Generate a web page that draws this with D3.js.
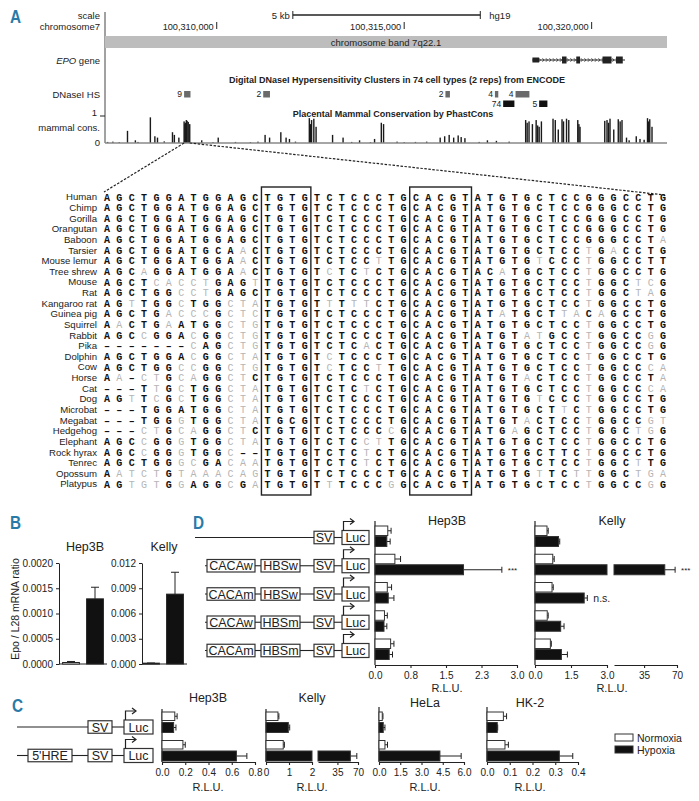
<!DOCTYPE html>
<html lang="en">
<head>
<meta charset="UTF-8">
<title>EPO hypoxia-response enhancer</title>
<script src="https://d3js.org/d3.v7.min.js"></script>
<style>
    body { margin: 0; padding: 0; background: #fff; }
    svg { display: block; font-family: "Liberation Sans", Arial, sans-serif; }
</style>
</head>
<body>
<div id="fig"></div>
<script>
// ---------------- data: panel A (positions in kb past chr7:100,300,000) ----------------
var viewKb = [7.02, 22.01];
var coordTicks = [10, 15, 20];
var coordLabels = ["100,310,000", "100,315,000", "100,320,000"];
var scaleBarKb = [12.03, 17.03];

var geneSpan = [18.42, 20.89];
var exonStart = [18.42, 19.21, 19.59, 20.29, 20.65];
var exonEnd   = [18.60, 19.33, 19.69, 20.53, 20.83];

var dnaseStart = [9.13, 11.24, 16.10, 17.42, 17.97, 17.64, 18.60];
var dnaseEnd   = [9.30, 11.42, 16.22, 17.51, 18.34, 17.94, 18.82];
var dnaseScore = ["9", "2", "2", "4", "4", "74", "5"];
var dnaseRow   = [0, 0, 0, 0, 0, 1, 1];
var dnaseDark  = [false, false, false, false, false, true, true];

var consPos = [7.09, 7.23, 7.40, 7.62, 7.83, 7.90, 8.23, 8.35, 8.42, 8.60, 8.82, 8.87, 8.99,
    9.13, 9.15, 9.17, 9.19, 9.21, 9.24, 9.28, 9.60, 9.90, 10.04, 10.50, 10.90, 11.10, 11.29, 11.41,
    11.71, 11.85, 11.94, 12.10, 12.47, 12.50, 12.53, 12.59, 12.65, 13.09, 13.37, 13.60, 13.81,
    14.10, 14.21, 14.39, 14.45, 14.81, 15.00, 15.30, 15.60, 15.96, 16.08, 16.20, 16.32, 16.44,
    16.52, 16.62, 17.00, 17.22, 17.46, 17.80, 18.24, 18.28, 18.33, 18.42, 18.52, 18.56, 18.60,
    18.66, 18.97, 19.03, 19.11, 19.21, 19.25, 19.33, 19.39, 19.63, 19.66, 19.69, 20.35, 20.41,
    20.45, 20.49, 20.59, 20.71, 20.76, 20.81, 20.93, 21.00, 21.19, 21.29, 21.40, 21.49, 21.52,
    21.55, 21.61];
var consVal = [0.04, 0.05, 0.03, 0.45, 0.10, 0.04, 0.95, 0.25, 0.20, 0.06, 0.40, 0.30, 0.20,
    0.80, 0.72, 0.75, 0.85, 0.82, 0.78, 0.70, 0.10, 0.03, 0.20, 0.04, 0.03, 0.05, 0.30, 0.20,
    0.40, 0.20, 0.15, 0.05, 0.92, 0.70, 0.85, 0.90, 0.60, 0.30, 0.20, 0.04, 0.10,
    0.03, 0.15, 0.75, 0.70, 0.05, 0.03, 0.04, 0.05, 0.20, 0.25, 0.30, 0.20, 0.28,
    0.22, 0.18, 0.04, 0.10, 0.08, 0.05, 0.85, 0.75, 0.80, 0.70, 0.85, 0.65, 0.60,
    0.80, 0.90, 0.85, 0.50, 0.88, 0.80, 0.90, 0.85, 0.85, 0.70, 0.60, 0.82, 0.85,
    0.75, 0.90, 0.50, 0.88, 0.80, 0.85, 0.20, 0.10, 0.25, 0.15, 0.12, 0.92, 0.80,
    0.88, 0.60];

// alignment: upper case = conserved (black), lower case = grey, "-" = gap
var species = ["Human", "Chimp", "Gorilla", "Orangutan", "Baboon", "Tarsier", "Mouse lemur",
    "Tree shrew", "Mouse", "Rat", "Kangaroo rat", "Guinea pig", "Squirrel", "Rabbit", "Pika",
    "Dolphin", "Cow", "Horse", "Cat", "Dog", "Microbat", "Megabat", "Hedgehog", "Elephant",
    "Rock hyrax", "Tenrec", "Opossum", "Platypus"];
var sequences = [
    "AGCTGGATGGAGC" + "TGTG" + "TC" + "TCCCTG" + "CACGT" + "ATGTGCTCCGGGCCTG",
    "AGCTGGATGGAGC" + "TGTG" + "TC" + "TCCCTG" + "CACGT" + "ATGTGCTCCGGGCCTG",
    "AGCTGGATGGAGC" + "TGTG" + "TC" + "TCCCTG" + "CACGT" + "ATGTGCTCCGGGCCTG",
    "AGCTGGATGGAGC" + "TGTG" + "TC" + "TCCCTG" + "CACGT" + "ATGTGCTCCGGGCCTG",
    "AGCTGGATGGAGC" + "TGTG" + "TC" + "TCCCTG" + "CACGT" + "ATGTGCTCCGGGCCTa",
    "AGCTGGATGCAaC" + "TGTG" + "TC" + "TCCCTG" + "CACGT" + "ATGTGCTCCtGaCCTG",
    "AGCTGGATGGAaC" + "TGTG" + "TC" + "TCCtTG" + "CACGT" + "ATGTGtCCCtGGCCTT",
    "AGCaGGATGGAaC" + "TGTG" + "Tc" + "TCtCTG" + "CACGT" + "ACaTGCTCCtGGCCTG",
    "AGCTcacctGAGt" + "TGTG" + "TC" + "TCCCTG" + "CACGT" + "ATGTGCTCCtGGCtcG",
    "AGCTGGcctGAGC" + "TGTG" + "TC" + "TCCCTG" + "CACGT" + "ATGTGCTCCtGGCtaG",
    "AGtTGGcTGGcta" + "TGTG" + "Tt" + "TttCTG" + "CACGT" + "ATGTGCTCCtGGCCTG",
    "AGCTGacccGctc" + "TGTG" + "TC" + "TCCCTG" + "CACGT" + "ATaTGCTtaCaGCCTG",
    "AaCTGaATGGctg" + "TGTG" + "TC" + "TCCCTG" + "CACGT" + "ATGTGCTCCtGGCCTG",
    "AGCcGGAcGGctg" + "TGTG" + "TC" + "TCCCTG" + "CACGT" + "ATGTatGCCtGGCCgG",
    "-------cAGctg" + "TGTG" + "TC" + "TCaCTG" + "CACGT" + "ATGTGCTCCtGGCCgG",
    "AGCTGGAcGGcta" + "TGTG" + "Tc" + "TCCCTG" + "CACGT" + "ATGTGCTCCtGGCCTG",
    "AGCTGGccGGctg" + "TGTG" + "Tc" + "TCCtTG" + "CACGT" + "ATGTGCTCCtGGCCca",
    "Aa-ctGcaGGctC" + "TGTG" + "TC" + "TCCCTG" + "CACGT" + "ATGTaCTCCtGGCCTa",
    "---TtGcTGGcta" + "TGTG" + "TC" + "TCtCTG" + "CACGT" + "ATGTGCTCCtGGCCca",
    "AGtTcGcTGGcta" + "TGTG" + "TC" + "TCCCTG" + "CACGT" + "ATGTGtCCCtGGCCTG",
    "---TGGATGGcta" + "TGTG" + "TC" + "TCCCTG" + "CACGT" + "ATGTGCTtCtGGCCTG",
    "---TGGgTGGcta" + "TGCG" + "TC" + "TCCCTG" + "CACGT" + "ATGTaCTCCtGGCCgt",
    "---ctGcaGGctC" + "TGTG" + "TC" + "TCCCcG" + "CACGT" + "ATGaGCTCCtGGCtgG",
    "AGCcGGgTGGcta" + "TGTG" + "TC" + "TCctTG" + "CACGT" + "ATGTGCTCCtGGCCTG",
    "AGCcGGgTGGc--" + "TGTG" + "TC" + "TCtCTG" + "CACGT" + "ATGTGCTTCtGGCCTG",
    "AGCTGGgcGAcaa" + "TGTG" + "TC" + "TCtCTG" + "CACGT" + "ATGTGCTCCtGGCtTG",
    "AatctGtaaacag" + "TGTG" + "TC" + "TCCCTG" + "CACGT" + "ATGTGtTCttGGCtga",
    "AGtgtGgAGGcGa" + "TGTG" + "Tt" + "TCCCgG" + "CACGT" + "ATGTGCTCCtGGCCgG"
];
var motifCols = [[13, 16], [25, 29]];   // TGTG (HBS-like) and CACGT (HRE)

// ---------------- data: panel B ----------------
var bCells = ["Hep3B", "Kelly"];
var bNorm    = [0.00003, 0.0001];
var bNormErr = [0.00005, 0.00012];
var bHyp     = [0.00129, 0.0083];
var bHypErr  = [0.00152, 0.0109];
var bTicks   = [[0, 0.0005, 0.001, 0.0015, 0.002], [0, 0.003, 0.006, 0.009, 0.012]];
var bTickLabels = [["0.0000", "0.0005", "0.0010", "0.0015", "0.0020"], ["0.000", "0.003", "0.006", "0.009", "0.012"]];

// ---------------- data: panel D ----------------
var dConstructs = [["SV", "Luc"], ["CACAw", "HBSw", "SV", "Luc"], ["CACAm", "HBSw", "SV", "Luc"],
    ["CACAw", "HBSm", "SV", "Luc"], ["CACAm", "HBSm", "SV", "Luc"]];
var dHep3BNorm    = [0.27, 0.42, 0.26, 0.20, 0.33];
var dHep3BNormErr = [0.34, 0.54, 0.35, 0.26, 0.40];
var dHep3BHyp     = [0.25, 1.87, 0.28, 0.19, 0.30];
var dHep3BHypErr  = [0.32, 2.68, 0.40, 0.25, 0.37];
var dHep3BSig     = ["", "***", "", "", ""];
var dKellyNorm    = [0.50, 0.74, 0.71, 0.51, 0.64];
var dKellyNormErr = [0.55, 0.80, 0.76, 0.55, 0.68];
var dKellyHyp     = [0.98, 57, 2.05, 1.07, 1.10];
var dKellyHypErr  = [1.03, 68, 2.18, 1.21, 1.35];
var dKellySig     = ["", "***", "n.s.", "", ""];

// ---------------- data: panel C ----------------
var cConstructs = [["SV", "Luc"], ["5'HRE", "SV", "Luc"]];
var cHep3BNorm = [0.11, 0.18], cHep3BNormErr = [0.13, 0.20], cHep3BHyp = [0.10, 0.64], cHep3BHypErr = [0.12, 0.73];
var cKellyNorm = [0.52, 0.75], cKellyNormErr = [0.56, 0.80], cKellyHyp = [0.97, 57], cKellyHypErr = [1.03, 68];
var cHeLaNorm  = [0.23, 0.42], cHeLaNormErr  = [0.28, 0.60], cHeLaHyp  = [0.30, 4.3],  cHeLaHypErr  = [0.42, 5.8];
var cHK2Norm   = [0.072, 0.079], cHK2NormErr = [0.086, 0.094], cHK2Hyp = [0.045, 0.318], cHK2HypErr = [0.047, 0.377];

var legendLabels = ["Normoxia", "Hypoxia"];

// ---------------- drawing ----------------
var teal = "#2a7aa8", ink = "#222";
var svg = d3.select("#fig").append("svg").attr("width", 699).attr("height", 801);

function label(g, x, y, t, size, anchor) {
    return g.append("text").attr("x", x).attr("y", y).text(t)
        .attr("font-size", size).attr("text-anchor", anchor || "start").attr("fill", ink);
}

[["A", 10, 23], ["B", 10, 529], ["D", 193, 529], ["C", 12, 712]].forEach(function (p) {
    svg.append("text").attr("x", p[1]).attr("y", p[2]).text(p[0])
        .attr("font-weight", "bold").attr("font-size", 18).attr("fill", teal)
        .attr("transform", "translate(" + p[1] + "," + p[2] + ") scale(0.85,1) translate(" + (-p[1]) + "," + (-p[2]) + ")");
});

// ===== Panel A: browser tracks =====
var A = svg.append("g");
var xg = d3.scaleLinear().domain(viewKb).range([105, 667]);
var fa = 9.5;

A.append("line").attr("x1", 105).attr("x2", 105).attr("y1", 12).attr("y2", 143).attr("stroke", "#444");
label(A, 100, 18.5, "scale", fa, "end");
label(A, 100, 29.5, "chromosome7", fa, "end");
label(A, 100, 64, "", fa, "end").call(function (t) {
    t.append("tspan").attr("font-style", "italic").text("EPO");
    t.append("tspan").text(" gene");
});
label(A, 100, 98, "DNaseI HS", fa, "end");
label(A, 97, 116, "1", fa, "end");
label(A, 100, 131, "mammal cons.", fa, "end");
label(A, 100, 145.5, "0", fa, "end");

// scale bar
A.append("line").attr("x1", xg(scaleBarKb[0])).attr("x2", xg(scaleBarKb[1])).attr("y1", 15).attr("y2", 15).attr("stroke", ink).attr("stroke-width", 1.3);
scaleBarKb.forEach(function (k) {
    A.append("line").attr("x1", xg(k)).attr("x2", xg(k)).attr("y1", 11).attr("y2", 19).attr("stroke", ink);
});
label(A, xg(scaleBarKb[0]) - 3, 18.5, "5 kb", fa, "end");
label(A, xg(scaleBarKb[1]) + 9, 18.5, "hg19", fa, "start");

coordTicks.forEach(function (k, i) {
    label(A, xg(k) - 3, 29.5, coordLabels[i], 9.2, "end");
    A.append("line").attr("x1", xg(k)).attr("x2", xg(k)).attr("y1", 22).attr("y2", 29).attr("stroke", ink);
});

// chromosome band
A.append("rect").attr("x", 105).attr("y", 36).attr("width", 562).attr("height", 12).attr("fill", "#bdbdbd");
label(A, 386, 45.5, "chromosome band 7q22.1", fa, "middle");

// EPO gene
A.append("line").attr("x1", xg(geneSpan[0])).attr("x2", xg(geneSpan[1])).attr("y1", 60).attr("y2", 60).attr("stroke", ink).attr("stroke-width", 1.2);
for (var cx = xg(geneSpan[0]) + 4; cx < xg(geneSpan[1]) - 2; cx += 3.5) {
    A.append("path").attr("d", "M" + (cx - 1) + ",58.2L" + (cx + 0.6) + ",60L" + (cx - 1) + ",61.8")
        .attr("fill", "none").attr("stroke", ink).attr("stroke-width", 0.7);
}
A.selectAll(".exon").data(exonStart).enter().append("rect")
    .attr("x", function (d) { return xg(d); })
    .attr("width", function (d, i) { return xg(exonEnd[i]) - xg(d); })
    .attr("y", function (d, i) { return i === 0 ? 57.5 : 56.5; })
    .attr("height", function (d, i) { return i === 0 ? 5 : 7; })
    .attr("fill", ink);

// DNase clusters
A.append("text").attr("x", 397).attr("y", 83).attr("text-anchor", "middle").attr("font-size", 9)
    .attr("font-weight", "bold").attr("fill", ink)
    .text("Digital DNaseI Hypersensitivity Clusters in 74 cell types (2 reps) from ENCODE");
dnaseStart.forEach(function (s, i) {
    var y = dnaseRow[i] === 0 ? 91 : 100.5;
    A.append("rect").attr("x", xg(s)).attr("y", y).attr("width", xg(dnaseEnd[i]) - xg(s)).attr("height", 6.5)
        .attr("fill", dnaseDark[i] ? "#111" : "#6a6a6a");
    label(A, xg(s) - 2, y + 6.3, dnaseScore[i], 8.5, "end");
});

// conservation
var yc = d3.scaleLinear().domain([0, 1]).range([143, 116]);
A.append("line").attr("x1", 100).attr("x2", 105).attr("y1", yc(1)).attr("y2", yc(1)).attr("stroke", ink);
A.append("text").attr("x", 393).attr("y", 117).attr("text-anchor", "middle").attr("font-size", 9)
    .attr("font-weight", "bold").attr("fill", ink).text("Placental Mammal Conservation by PhastCons");
A.selectAll(".cons").data(consPos).enter().append("rect")
    .attr("x", function (d) { return xg(d) - 0.7; })
    .attr("width", 1.4)
    .attr("y", function (d, i) { return yc(consVal[i]); })
    .attr("height", function (d, i) { return yc(0) - yc(consVal[i]); })
    .attr("fill", "#1a1a1a");
A.append("line").attr("x1", 105).attr("x2", 667).attr("y1", 143).attr("y2", 143).attr("stroke", "#888").attr("stroke-width", 1.5);

// zoom-in dashed lines
A.append("line").attr("x1", xg(9.13)).attr("y1", 143).attr("x2", 104).attr("y2", 192)
    .attr("stroke", ink).attr("stroke-width", 1.2).attr("stroke-dasharray", "2.5,1.5");
A.append("line").attr("x1", xg(9.28)).attr("y1", 143).attr("x2", 665).attr("y2", 195)
    .attr("stroke", ink).attr("stroke-width", 1.2).attr("stroke-dasharray", "2.5,1.5");

// alignment
var colX = d3.scalePoint().domain(d3.range(sequences[0].length)).range([107, 663]);
var rowY = d3.scalePoint().domain(species).range([197, 484]);
var step = colX.step();
species.forEach(function (sp, i) {
    label(A, 97, rowY(sp) + 3.4, sp, 9.6, "end");
    var row = A.append("g");
    sequences[i].split("").forEach(function (ch, j) {
        var dash = ch === "-";
        var up = ch === ch.toUpperCase();
        row.append("text").attr("x", colX(j)).attr("y", rowY(sp) + 3.5)
            .attr("text-anchor", "middle")
            .attr("font-family", "'Liberation Mono', 'DejaVu Sans Mono', monospace")
            .attr("font-size", 10)
            .attr("font-weight", up ? "bold" : "normal")
            .attr("fill", up ? "#111" : "#b5b5b5")
            .text(dash ? "\u2013" : ch.toUpperCase());
    });
});
motifCols.forEach(function (m) {
    A.append("rect").attr("x", colX(m[0]) - step / 2).attr("y", 187)
        .attr("width", colX(m[1]) - colX(m[0]) + step).attr("height", 308)
        .attr("fill", "none").attr("stroke", ink).attr("stroke-width", 1.4);
});

// ===== Panel B =====
var B = svg.append("g");
var bAxisX = [59, 142], bBand = [[59, 107], [139, 187]], bTitleX = [85, 164];
var yB0 = 664, yB1 = 563;
bCells.forEach(function (cell, k) {
    var y = d3.scaleLinear().domain([0, bTicks[k][bTicks[k].length - 1]]).range([yB0, yB1]);
    var x = d3.scaleBand().domain(legendLabels).range(bBand[k]).paddingInner(0.3).paddingOuter(0.15);
    var ax = B.append("g").attr("transform", "translate(" + bAxisX[k] + ",0)")
        .call(d3.axisLeft(y).tickValues(bTicks[k]).tickFormat(function (d, i) { return bTickLabels[k][i]; })
            .tickSize(3).tickSizeOuter(0));
    ax.selectAll("text").attr("font-size", 10).attr("fill", ink).attr("font-family", null);
    ax.selectAll("line,path").attr("stroke", ink);
    B.append("line").attr("x1", bAxisX[k]).attr("x2", bBand[k][1]).attr("y1", yB0).attr("y2", yB0).attr("stroke", ink);
    var vals = [bNorm[k], bHyp[k]], errs = [bNormErr[k], bHypErr[k]];
    legendLabels.forEach(function (cond, j) {
        var cxm = x(cond) + x.bandwidth() / 2;
        B.append("line").attr("x1", cxm).attr("x2", cxm).attr("y1", y(vals[j])).attr("y2", y(errs[j])).attr("stroke", ink);
        B.append("line").attr("x1", cxm - 4).attr("x2", cxm + 4).attr("y1", y(errs[j])).attr("y2", y(errs[j])).attr("stroke", ink);
        B.append("rect").attr("x", x(cond)).attr("width", x.bandwidth())
            .attr("y", y(vals[j])).attr("height", Math.max(1, yB0 - y(vals[j])))
            .attr("fill", j === 0 ? "#fff" : "#111").attr("stroke", ink).attr("stroke-width", 1);
    });
    label(B, bTitleX[k], 551, cell, 12.5, "middle");
});
label(B, 0, 0, "Epo / L28 mRNA ratio", 10.5, "middle").attr("transform", "translate(19,609) rotate(-90)");

// ===== shared horizontal bar chart =====
function hbar(cfg) {
    var g = svg.append("g");
    var segs = cfg.segs.map(function (s) {
        return { dom: s.dom, rng: s.rng, ticks: s.ticks, labels: s.labels, sc: d3.scaleLinear().domain(s.dom).range(s.rng) };
    });
    function pieces(v) {
        var out = [];
        segs.forEach(function (s, i) {
            if (i === 0 || v > s.dom[0]) out.push([s.sc(s.dom[0]), s.sc(Math.min(v, s.dom[1]))]);
        });
        return out;
    }
    function xOf(v) {
        for (var i = segs.length - 1; i > 0; i--) if (v > segs[i].dom[0]) return segs[i].sc(Math.min(v, segs[i].dom[1]));
        return segs[0].sc(v);
    }
    var x0 = segs[0].rng[0];
    g.append("line").attr("x1", x0).attr("x2", x0).attr("y1", cfg.top).attr("y2", cfg.base).attr("stroke", ink).attr("stroke-width", 1.2);
    segs.forEach(function (s) {
        var ax = g.append("g").attr("transform", "translate(0," + cfg.base + ")")
            .call(d3.axisBottom(s.sc).tickValues(s.ticks).tickFormat(function (d, i) { return s.labels[i]; })
                .tickSize(3).tickSizeOuter(0));
        ax.selectAll("path,line").attr("stroke", ink).attr("stroke-width", 1.1);
        ax.selectAll("text").attr("font-size", 10).attr("fill", ink).attr("font-family", null).attr("dy", "0.75em");
    });
    cfg.rows.forEach(function (c, r) {
        var sets = [[cfg.norm[r], cfg.normErr[r], c + cfg.wOff, cfg.wH, "#fff"],
                    [cfg.hyp[r], cfg.hypErr[r], c + cfg.bOff, cfg.bH, "#111"]];
        sets.forEach(function (s) {
            var mid = s[2] + s[3] / 2, xe = xOf(s[1]), xv = xOf(s[0]);
            g.append("line").attr("x1", xv).attr("x2", xe).attr("y1", mid).attr("y2", mid).attr("stroke", ink);
            g.append("line").attr("x1", xe).attr("x2", xe).attr("y1", mid - 3).attr("y2", mid + 3).attr("stroke", ink);
            pieces(s[0]).forEach(function (p) {
                g.append("rect").attr("x", p[0]).attr("width", Math.max(0.5, p[1] - p[0]))
                    .attr("y", s[2]).attr("height", s[3])
                    .attr("fill", s[4]).attr("stroke", "#333").attr("stroke-width", 1);
            });
        });
        if (cfg.sig && cfg.sig[r]) {
            label(g, xOf(cfg.hypErr[r]) + 6, c + cfg.bOff + cfg.bH / 2 + (cfg.sig[r] === "***" ? 3 : 3.5),
                cfg.sig[r], cfg.sig[r] === "***" ? 8 : 10.5, "start");
        }
    });
    label(g, cfg.titleX, cfg.titleY, cfg.title, 12.5, "middle");
    label(g, cfg.titleX, cfg.rluY, "R.L.U.", 11, "middle");
    return g;
}

// construct diagrams
function construct(g, parts, y, x0, pos) {
    var first = pos[parts[0]][0];
    g.append("line").attr("x1", x0).attr("x2", first).attr("y1", y).attr("y2", y).attr("stroke", ink).attr("stroke-width", 1.1);
    parts.forEach(function (p, i) {
        var b = pos[p];
        if (i > 0) {
            var prev = pos[parts[i - 1]][1];
            g.append("line").attr("x1", prev).attr("x2", b[0]).attr("y1", y).attr("y2", y).attr("stroke", ink).attr("stroke-width", 1.1);
        }
        var h = p === "Luc" ? 14 : 12.5;
        g.append("rect").attr("x", b[0]).attr("y", y - h / 2).attr("width", b[1] - b[0]).attr("height", h)
            .attr("fill", "#fff").attr("stroke", "#333").attr("stroke-width", 1.2);
        label(g, (b[0] + b[1]) / 2, y + 4.5, p, 12.5, "middle");
        if (p === "Luc") {
            var ax = b[0] + 1.5, top = y - h / 2, yy = top - 9;
            g.append("path").attr("d", "M" + ax + "," + top + "V" + yy + "H" + (ax + 10))
                .attr("fill", "none").attr("stroke", ink).attr("stroke-width", 1.2);
            g.append("path").attr("d", "M" + (ax + 6.5) + "," + (yy - 3) + "L" + (ax + 10.5) + "," + yy + "L" + (ax + 6.5) + "," + (yy + 3))
                .attr("fill", "none").attr("stroke", ink).attr("stroke-width", 1.2);
        }
    });
}
function partKey(p) { return p.replace(/[wm]$/, ""); }

// ===== Panel D =====
var D = svg.append("g");
var dRows = d3.scalePoint().domain(d3.range(dConstructs.length)).range([537, 650]);
var dPos = { CACA: [207, 255], HBS: [261, 300], SV: [314, 334], Luc: [342, 369] };
dConstructs.forEach(function (parts, r) {
    var pos = {};
    parts.forEach(function (p) { pos[p] = dPos[partKey(p)]; });
    construct(D, parts, dRows(r) + 0.5, r === 0 ? 195 : 205, pos);
});
var dRowsArr = d3.range(dConstructs.length).map(dRows);
hbar({ segs: [{ dom: [0, 3], rng: [375, 517], ticks: [0, 0.75, 1.5, 2.25, 3], labels: ["0.0", "0.8", "1.5", "2.3", "3.0"] }],
    rows: dRowsArr, norm: dHep3BNorm, normErr: dHep3BNormErr, hyp: dHep3BHyp, hypErr: dHep3BHypErr, sig: dHep3BSig,
    wOff: -11, wH: 9.5, bOff: -0.5, bH: 10, top: 521, base: 665, title: "Hep3B", titleX: 447, titleY: 525, rluY: 692 });
hbar({ segs: [{ dom: [0, 3], rng: [535, 607], ticks: [0, 1.5, 3], labels: ["0.0", "1.5", "3.0"] },
              { dom: [3, 70], rng: [614, 677], ticks: [35, 70], labels: ["35", "70"] }],
    rows: dRowsArr, norm: dKellyNorm, normErr: dKellyNormErr, hyp: dKellyHyp, hypErr: dKellyHypErr, sig: dKellySig,
    wOff: -11, wH: 9.5, bOff: -0.5, bH: 10, top: 521, base: 665, title: "Kelly", titleX: 612, titleY: 525, rluY: 692 });

// ===== Panel C =====
var C = svg.append("g");
var cRows = [722, 750.5];
var cPos = { "5'HRE": [28, 72], SV: [88, 112], Luc: [124, 153] };
cConstructs.forEach(function (parts, r) {
    construct(C, parts, cRows[r] + 5, 17, cPos);
});
var cCommon = { rows: cRows, wOff: -10, wH: 8.5, bOff: 0.5, bH: 10, base: 762, rluY: 791 };
hbar(Object.assign({}, cCommon, { segs: [{ dom: [0, 0.8], rng: [162, 255], ticks: [0, 0.2, 0.4, 0.6, 0.8], labels: ["0.0", "0.2", "0.4", "0.6", "0.8"] }],
    norm: cHep3BNorm, normErr: cHep3BNormErr, hyp: cHep3BHyp, hypErr: cHep3BHypErr, top: 709, title: "Hep3B", titleX: 208, titleY: 702 }));
hbar(Object.assign({}, cCommon, { segs: [{ dom: [0, 2], rng: [266, 312], ticks: [0, 1, 2], labels: ["0", "1", "2"] },
              { dom: [2, 70], rng: [318, 358], ticks: [35, 70], labels: ["35", "70"] }],
    norm: cKellyNorm, normErr: cKellyNormErr, hyp: cKellyHyp, hypErr: cKellyHypErr, top: 709, title: "Kelly", titleX: 312, titleY: 702 }));
hbar(Object.assign({}, cCommon, { segs: [{ dom: [0, 6], rng: [379, 464], ticks: [0, 1.5, 3, 4.5, 6], labels: ["0.0", "1.5", "3.0", "4.5", "6.0"] }],
    norm: cHeLaNorm, normErr: cHeLaNormErr, hyp: cHeLaHyp, hypErr: cHeLaHypErr, top: 707, title: "HeLa", titleX: 425, titleY: 707 }));
hbar(Object.assign({}, cCommon, { segs: [{ dom: [0, 0.4], rng: [487, 578], ticks: [0, 0.1, 0.2, 0.3, 0.4], labels: ["0.0", "0.1", "0.2", "0.3", "0.4"] }],
    norm: cHK2Norm, normErr: cHK2NormErr, hyp: cHK2Hyp, hypErr: cHK2HypErr, top: 707, title: "HK-2", titleX: 530, titleY: 707 }));

// legend
var L = svg.append("g").attr("transform", "translate(615,734)");
legendLabels.forEach(function (name, i) {
    L.append("rect").attr("x", 0).attr("y", i * 12).attr("width", 18).attr("height", 7)
        .attr("fill", i === 0 ? "#fff" : "#111").attr("stroke", "#333");
    label(L, 22, i * 12 + 7.5, name, 10.5, "start");
});
</script>
</body>
</html>
